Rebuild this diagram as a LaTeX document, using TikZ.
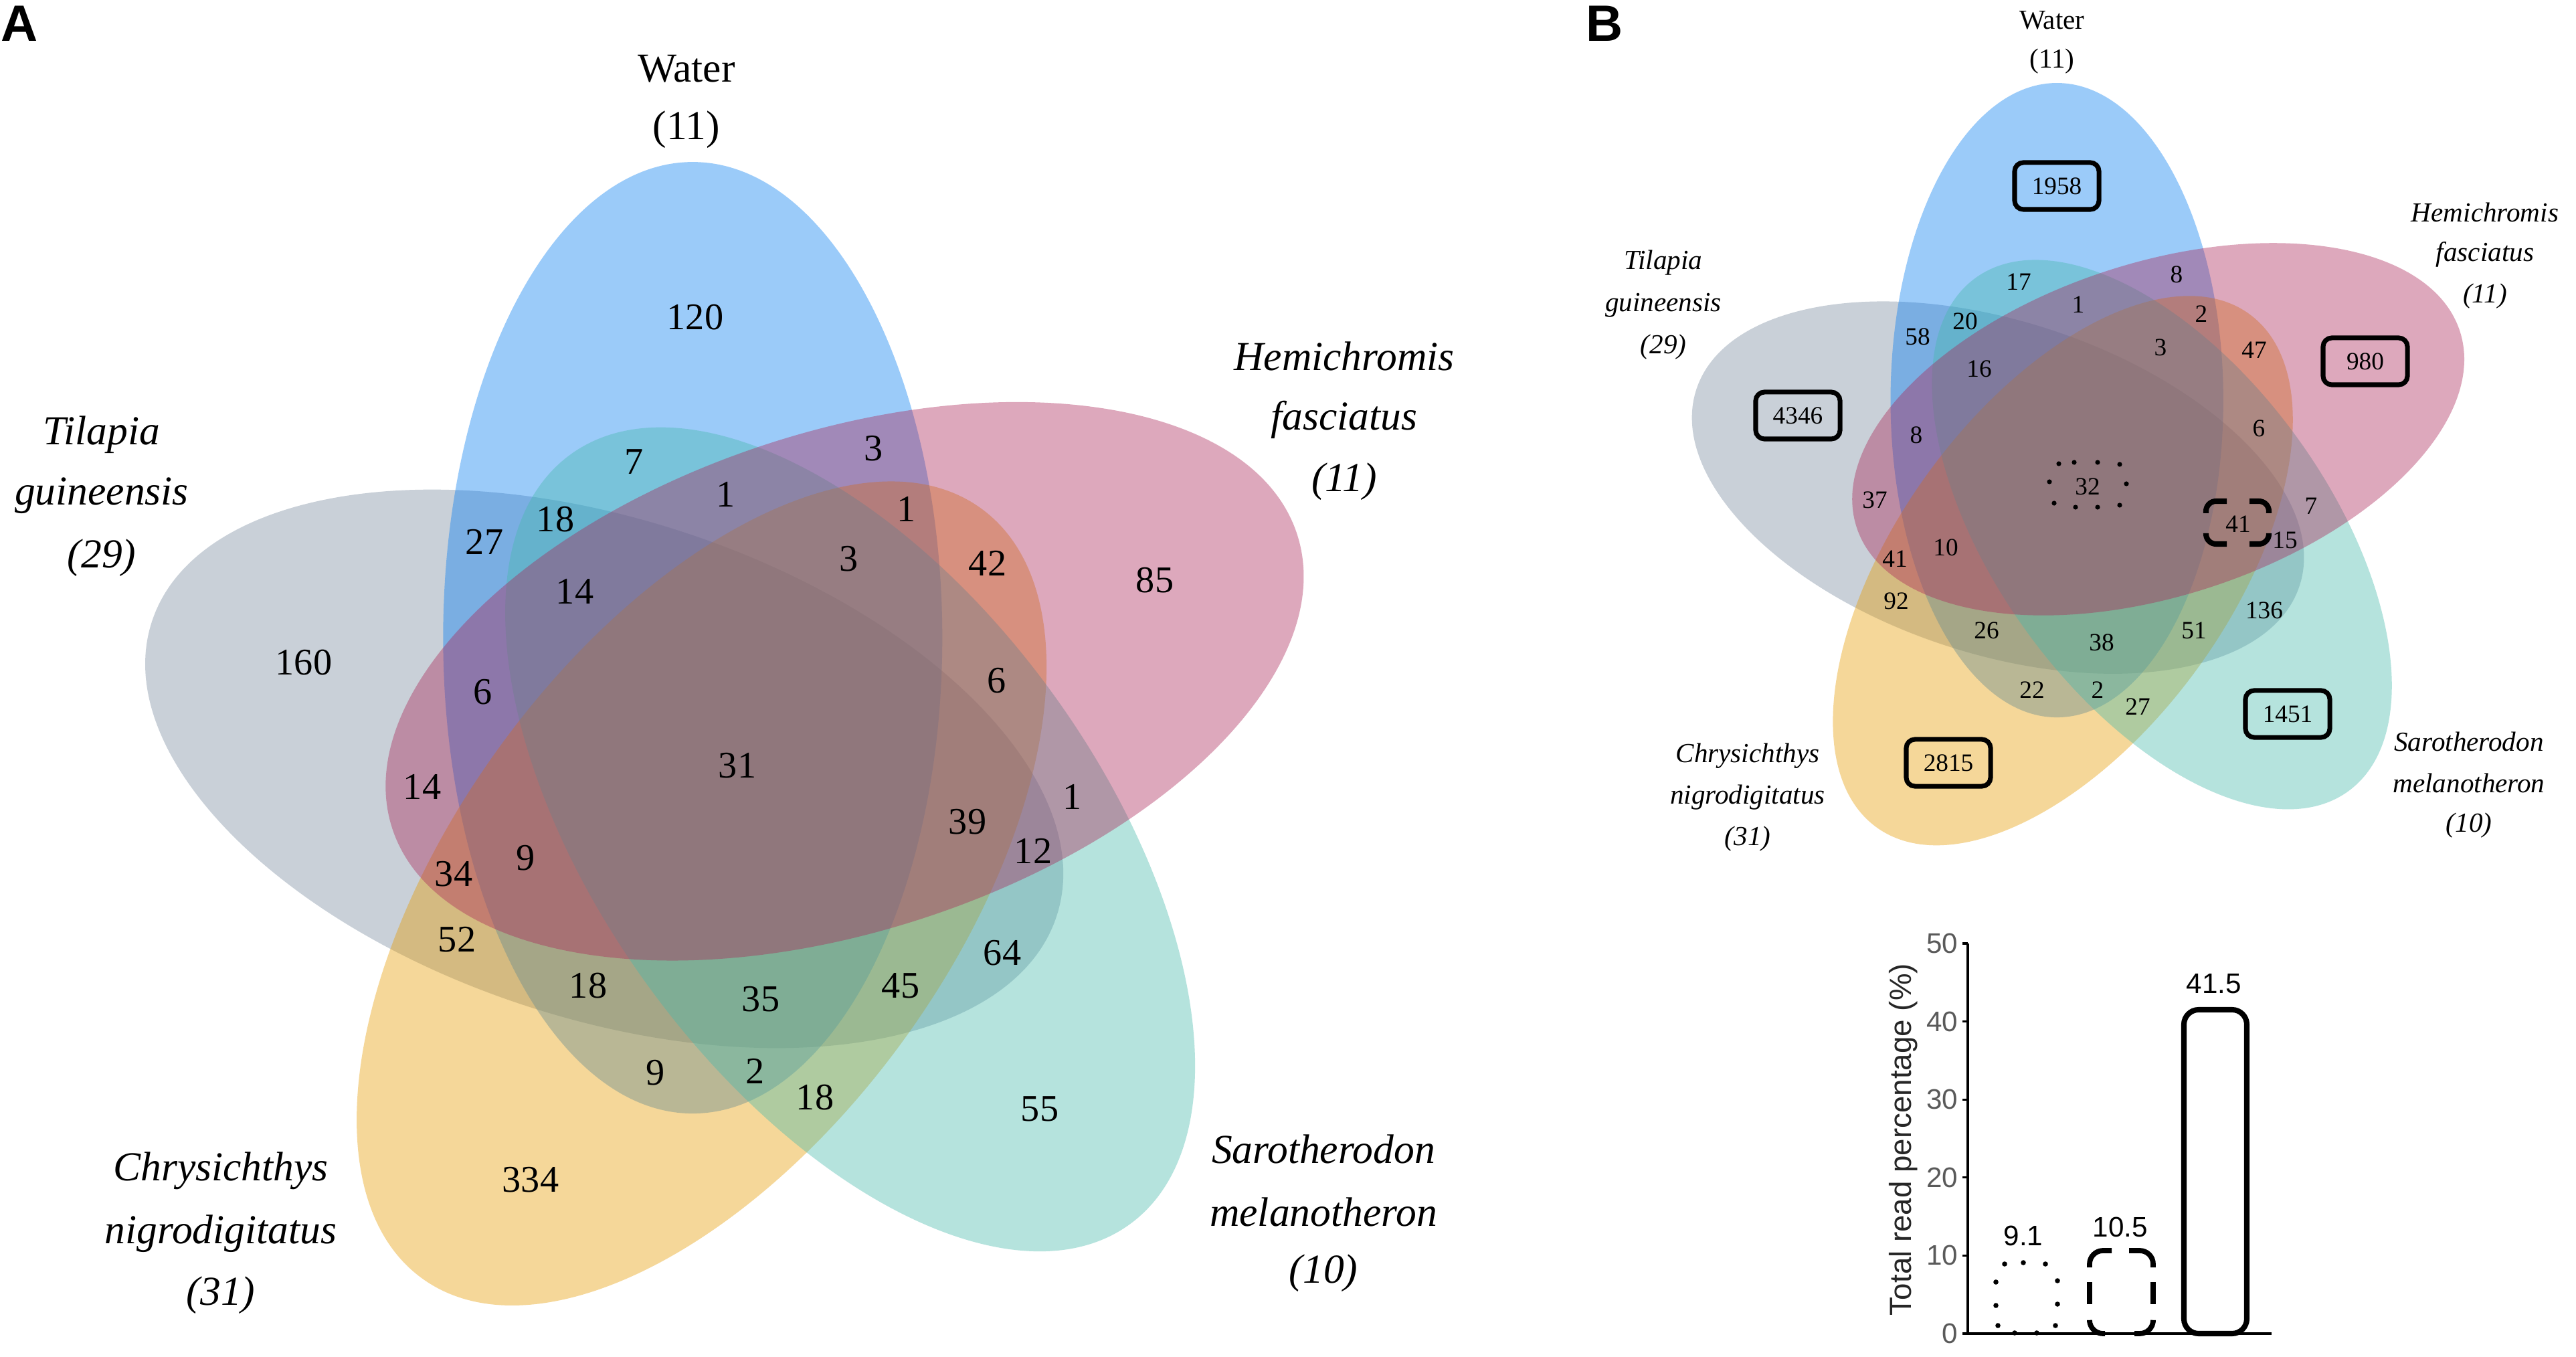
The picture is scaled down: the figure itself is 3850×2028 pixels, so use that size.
\documentclass[tikz,border=0pt]{standalone}
\usepackage{fontspec}
\setmainfont{Liberation Serif}
\newfontfamily\sansfont{Liberation Sans}
\definecolor{cgray}{RGB}{120,138,158}
\definecolor{cblue}{RGB}{5,125,242}
\definecolor{cteal}{RGB}{70,185,172}
\definecolor{corange}{RGB}{230,155,0}
\definecolor{cpink}{RGB}{170,38,88}
\definecolor{ticktext}{RGB}{90,90,90}
\newcommand\myvenn[3]{%
\begin{scope}[shift={(#1,#2)}, scale=#3]
 \begin{scope}[shift={(-200.9,7.0)}, rotate=162]\fill[cgray, ell] (0,0) ellipse [x radius=711, y radius=373];\end{scope}
 \begin{scope}[shift={(-68.7,-188.9)}, rotate=90]\fill[cblue, ell] (0,0) ellipse [x radius=711, y radius=373];\end{scope}
 \begin{scope}[shift={(-55.4,193.2)}, rotate=54]\fill[corange, ell] (0,0) ellipse [x radius=711, y radius=373];\end{scope}
 \begin{scope}[shift={(166.6,112.4)}, rotate=-54]\fill[cteal, ell] (0,0) ellipse [x radius=711, y radius=373];\end{scope}
 \begin{scope}[shift={(158.4,-123.8)}, rotate=18]\fill[cpink, ell] (0,0) ellipse [x radius=711, y radius=373];\end{scope}
\end{scope}}
\begin{document}
\begin{tikzpicture}[x=0.01cm,y=-0.01cm,
  ell/.style={fill opacity=0.4},
  numA/.style={font=\fontsize{16}{16}\selectfont, inner sep=0pt},
  labA/.style={font=\fontsize{17.5}{17.5}\selectfont\itshape, inner sep=0pt},
  labAu/.style={font=\fontsize{17.5}{17.5}\selectfont, inner sep=0pt},
  numB/.style={font=\fontsize{10.6}{10.6}\selectfont, inner sep=0pt},
  labB/.style={font=\fontsize{11.7}{11.7}\selectfont\itshape, inner sep=0pt},
  labBu/.style={font=\fontsize{11.7}{11.7}\selectfont, inner sep=0pt},
  boxB/.style={draw, line width=2pt, rounded corners=0.13cm, minimum width=1.26cm, minimum height=0.70cm, inner sep=0pt, font=\fontsize{10.6}{10.6}\selectfont},
  panel/.style={font=\sansfont\bfseries\fontsize{21.7}{21.7}\selectfont, inner sep=0pt, anchor=base west},
  tick/.style={font=\sansfont\fontsize{12}{12}\selectfont, text=ticktext, anchor=east, inner sep=0pt},
  barval/.style={font=\sansfont\fontsize{12}{12}\selectfont, inner sep=0pt},
  barline/.style={line width=2.3pt, rounded corners=0.22cm},
  dot/.style={fill=black}
]
\fill[white] (0,0) rectangle (3850,2028);
\useasboundingbox (0,0) rectangle (3850,2028);

% ---------------- Panel A ----------------
\myvenn{1104}{1142}{1}
\node[panel] (pA) at (1,62) {A};
\node[labAu] (wA1) at (1026,103) {Water};
\node[labAu] (wA2) at (1026,194) {(11)};
\node[labA] (tA1) at (152,650) {Tilapia};
\node[labA] (tA2) at (152,741) {guineensis};
\node[labA] (tA3) at (152,834) {(29)};
\node[labA] (hA1) at (2009,532) {Hemichromis};
\node[labA] (hA2) at (2009,627) {fasciatus};
\node[labA] (hA3) at (2009,720) {(11)};
\node[labA] (cA1) at (330,1750) {Chrysichthys};
\node[labA] (cA2) at (330,1844) {nigrodigitatus};
\node[labA] (cA3) at (330,1936) {(31)};
\node[labA] (sA1) at (1978,1717) {Sarotherodon};
\node[labA] (sA2) at (1978,1811) {melanotheron};
\node[labA] (sA3) at (1978,1903) {(10)};

\node[numA] (a01) at (1039,474) {120};
\node[numA] (a02) at (948,690) {7};
\node[numA] (a03) at (1306,670) {3};
\node[numA] (a04) at (1085,739) {1};
\node[numA] (a05) at (1355,761) {1};
\node[numA] (a06) at (830,776) {18};
\node[numA] (a07) at (724,810) {27};
\node[numA] (a08) at (1269,835) {3};
\node[numA] (a09) at (1476,842) {42};
\node[numA] (a10) at (1726,867) {85};
\node[numA] (a11) at (859,884) {14};
\node[numA] (a12) at (454,990) {160};
\node[numA] (a13) at (722,1034) {6};
\node[numA] (a14) at (1490,1017) {6};
\node[numA] (a15) at (1102,1144) {31};
\node[numA] (a16) at (631,1176) {14};
\node[numA] (a17) at (1446,1228) {39};
\node[numA] (a18) at (1603,1191) {1};
\node[numA] (a19) at (1544,1272) {12};
\node[numA] (a20) at (678,1306) {34};
\node[numA] (a21) at (786,1282) {9};
\node[numA] (a22) at (683,1404) {52};
\node[numA] (a23) at (879,1473) {18};
\node[numA] (a24) at (1137,1493) {35};
\node[numA] (a25) at (1346,1473) {45};
\node[numA] (a26) at (1498,1424) {64};
\node[numA] (a27) at (980,1603) {9};
\node[numA] (a28) at (1129,1601) {2};
\node[numA] (a29) at (1218,1640) {18};
\node[numA] (a30) at (1554,1657) {55};
\node[numA] (a31) at (793,1763) {334};

% ---------------- Panel B ----------------
\myvenn{3120}{724}{0.6667}
\node[panel] (pB) at (2370,62) {B};
\node[labBu] (wB1) at (3067,30) {Water};
\node[labBu] (wB2) at (3067,92) {(11)};
\node[labB] (tB1) at (2486,393) {Tilapia};
\node[labB] (tB2) at (2486,456) {guineensis};
\node[labB] (tB3) at (2486,519) {(29)};
\node[labB] (hB1) at (3714,317) {Hemichromis};
\node[labB] (hB2) at (3714,380) {fasciatus};
\node[labB] (hB3) at (3714,443) {(11)};
\node[labB] (cB1) at (2612,1130) {Chrysichthys};
\node[labB] (cB2) at (2612,1192) {nigrodigitatus};
\node[labB] (cB3) at (2612,1254) {(31)};
\node[labB] (sB1) at (3690,1108) {Sarotherodon};
\node[labB] (sB2) at (3690,1170) {melanotheron};
\node[labB] (sB3) at (3690,1234) {(10)};

\node[boxB] (b01) at (3074,278) {1958};
\node[boxB] (b02) at (3535,540) {980};
\node[boxB] (b03) at (2687,621) {4346};
\node[boxB] (b04) at (2912,1140) {2815};
\node[boxB] (b05) at (3419,1067) {1451};
\node[numB] (b06) at (3017,421) {17};
\node[numB] (b07) at (3253,410) {8};
\node[numB] (b08) at (3106,455) {1};
\node[numB] (b09) at (3290,469) {2};
\node[numB] (b10) at (2937,480) {20};
\node[numB] (b11) at (2866,503) {58};
\node[numB] (b12) at (3229,519) {3};
\node[numB] (b13) at (3369,523) {47};
\node[numB] (b14) at (2958,551) {16};
\node[numB] (b15) at (3376,640) {6};
\node[numB] (b16) at (2864,650) {8};
\node[numB] (b17) at (3120,727) {32};
\node[numB] (b18) at (2802,747) {37};
\node[numB] (b19) at (3454,756) {7};
\node[numB] (b20) at (3345,783) {41};
\node[numB] (b21) at (3415,807) {15};
\node[numB] (b22) at (2908,818) {10};
\node[numB] (b23) at (2832,835) {41};
\node[numB] (b24) at (2834,898) {92};
\node[numB] (b25) at (3384,912) {136};
\node[numB] (b26) at (2969,942) {26};
\node[numB] (b27) at (3279,942) {51};
\node[numB] (b28) at (3141,960) {38};
\node[numB] (b29) at (3037,1031) {22};
\node[numB] (b30) at (3135,1031) {2};
\node[numB] (b31) at (3195,1056) {27};
% dotted box round 32
\foreach \px/\py in {3077/693,3100/691,3135/691,3168/694,3063/720,3178/723,3070/752,3102/758,3135/758,3168/755}
  \fill[dot] (\px,\py) circle [radius=3.6];
% corner-dashed box round 41
\begin{scope}[line width=2.3pt, rounded corners=0.15cm]
\draw (3297,767) -- (3297,749) -- (3328,749);
\draw (3362,749) -- (3391,749) -- (3391,767);
\draw (3297,797) -- (3297,813) -- (3328,813);
\draw (3362,813) -- (3391,813) -- (3391,797);
\end{scope}

% ---------------- Bar chart ----------------
\draw[line width=1pt] (2941,1410) -- (2941,1993) -- (3395,1993);
\foreach \v/\nm in {0/t0,10/t1,20/t2,30/t3,40/t4,50/t5}{
  \draw[line width=0.9pt] (2933,{1993-11.66*\v}) -- (2941,{1993-11.66*\v});
  \node[tick] (\nm) at (2927,{1993-11.66*\v}) {\v};
}
\node[font=\sansfont\fontsize{13}{13}\selectfont, text=black!85, rotate=90, inner sep=0pt] (ylab) at (2845,1703) {Total read percentage (\%)};
% dotted bar (9.1)
\foreach \px/\py in {2996/1889,3024/1887,3057/1889,2983/1916,2983/1951,2986/1981,3075/1914,3075/1949,3072/1981,3011/1992,3044/1992}
  \fill[dot] (\px,\py) circle [radius=3.8];
% dashed bar (10.5)
\begin{scope}[line width=2.2pt, rounded corners=0.2cm]
\draw (3123,1894) -- (3123,1869) -- (3156,1869);
\draw (3182,1869) -- (3218,1869) -- (3218,1894);
\draw (3123,1916) -- (3123,1949);
\draw (3218,1916) -- (3218,1949);
\draw (3123,1976) -- (3123,1993) -- (3146,1993);
\draw (3190,1993) -- (3218,1993) -- (3218,1976);
\end{scope}
% solid bar (41.5)
\draw[barline] (3264,1993) rectangle (3358,1509);
\node[barval] (v1) at (3024,1847) {9.1};
\node[barval] (v2) at (3169,1834) {10.5};
\node[barval] (v3) at (3309,1470) {41.5};
\end{tikzpicture}
\end{document}
